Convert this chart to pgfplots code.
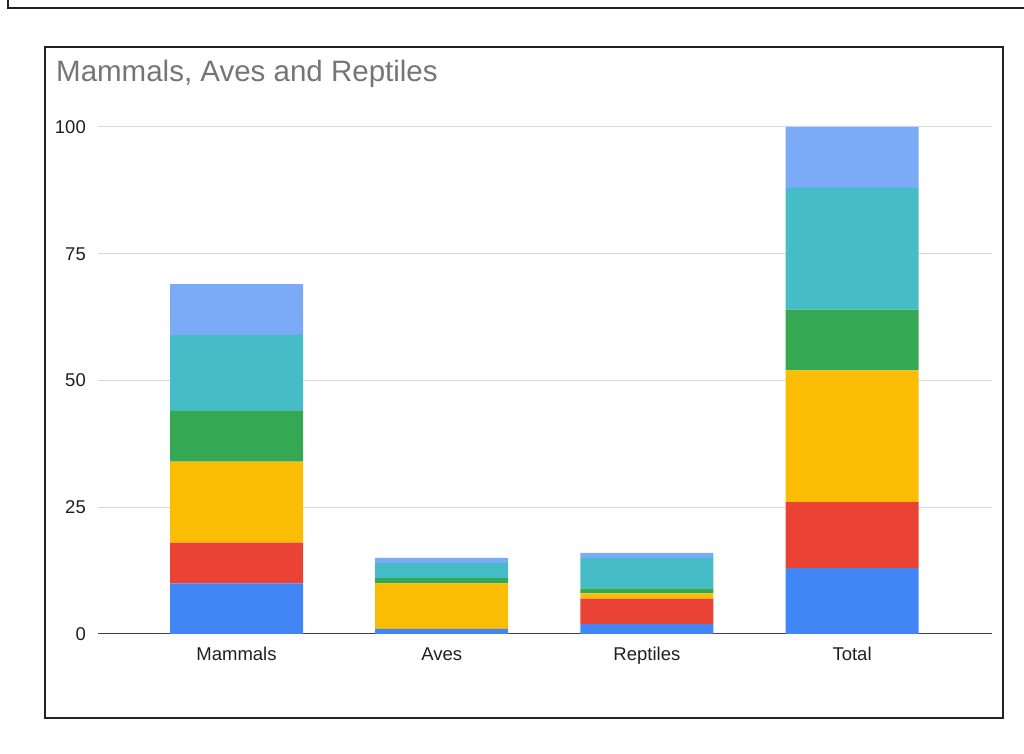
\documentclass[border=0pt]{standalone}
\usepackage{pgfplots}
\pgfplotsset{compat=1.18}
\usepackage{fontspec}
\setmainfont{Liberation Sans}
\definecolor{cblue}{HTML}{4285F4}
\definecolor{cred}{HTML}{EA4335}
\definecolor{cyellow}{HTML}{FBBC04}
\definecolor{cgreen}{HTML}{34A853}
\definecolor{cteal}{HTML}{46BDC6}
\definecolor{clight}{HTML}{7BAAF7}
\definecolor{ctitle}{HTML}{757575}
\definecolor{cgrid}{HTML}{D9D9D9}
\definecolor{cframe}{HTML}{222222}
\begin{document}
\begin{tikzpicture}
\useasboundingbox (0,0) rectangle (1024bp,754bp);
\draw[line width=2bp, color=cframe] (8bp,770bp) -- (8bp,746bp) -- (1040bp,746bp);
\draw[line width=2.5bp, color=cframe] (45bp,36bp) rectangle (1003bp,707bp);
\node[anchor=base west, inner sep=0pt, text=ctitle, font=\fontsize{29.5bp}{31bp}\selectfont] at (56bp,672bp) {Mammals, Aves and Reptiles};
\begin{axis}[
  at={(98bp,120bp)}, anchor=south west,
  scale only axis, width=894bp, height=507bp,
  ybar stacked, bar width=133bp,
  xmin=-0.675, xmax=3.682, ymin=0, ymax=100,
  xtick={0,1,2,3}, xticklabels={Mammals,Aves,Reptiles,Total},
  ytick={0,25,50,75,100},
  axis line style={draw=none},
  major tick length=0pt,
  ymajorgrids, grid style={color=cgrid, line width=1bp},
  /pgf/number format/assume math mode=true,
  tick label style={font=\fontsize{18.5bp}{20bp}\selectfont, text=black!88},
  yticklabel style={inner sep=0pt, xshift=-12bp},
  xticklabel style={inner sep=0pt, anchor=base, yshift=-27bp},
]
\addplot[fill=cblue, draw=none] coordinates {(0,10) (1,1) (2,2) (3,13)};
\addplot[fill=cred, draw=none] coordinates {(0,8) (1,0) (2,5) (3,13)};
\addplot[fill=cyellow, draw=none] coordinates {(0,16) (1,9) (2,1) (3,26)};
\addplot[fill=cgreen, draw=none] coordinates {(0,10) (1,1) (2,1) (3,12)};
\addplot[fill=cteal, draw=none] coordinates {(0,15) (1,3) (2,6) (3,24)};
\addplot[fill=clight, draw=none] coordinates {(0,10) (1,1) (2,1) (3,12)};
\draw[color=black!75, line width=1.5bp] (axis cs:-0.675,0) -- (axis cs:3.682,0);
\end{axis}
\end{tikzpicture}
\end{document}
